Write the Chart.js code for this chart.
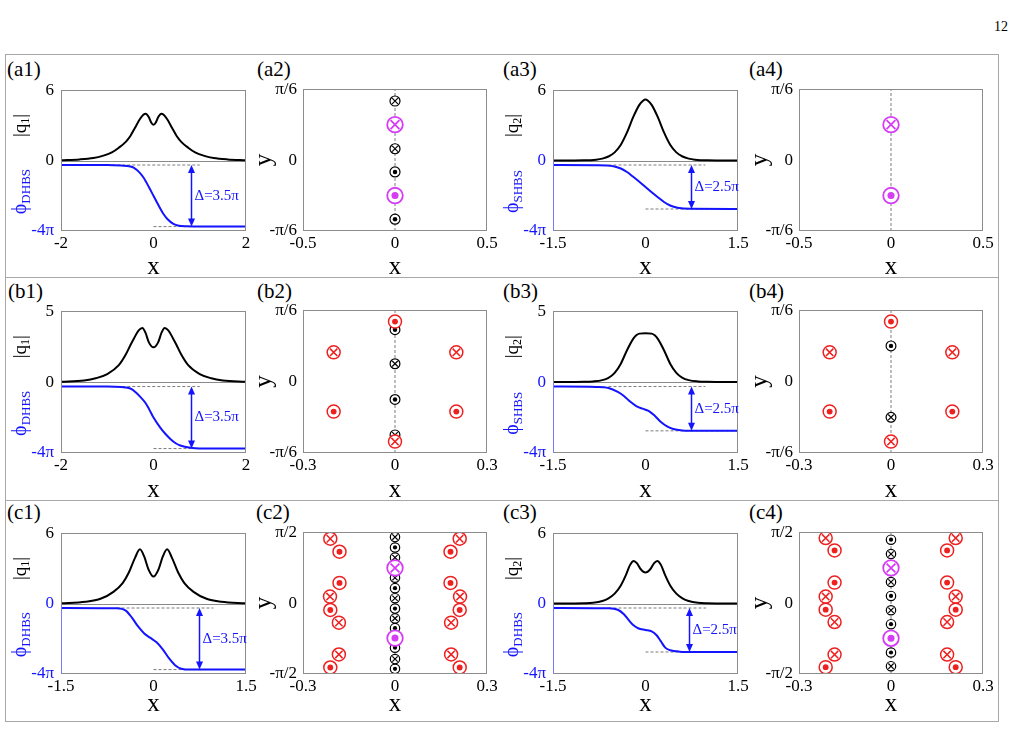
<!DOCTYPE html>
<html>
<head>
<meta charset="utf-8">
<script src="https://cdn.jsdelivr.net/npm/chart.js@4.4.1/dist/chart.umd.min.js"></script>
<style>
  body { margin: 0; width: 1016px; height: 729px; background: #fff; position: relative; overflow: hidden;
         font-family: "Liberation Serif", Tinos, "Times New Roman", serif; color: #000; }
  canvas { position: absolute; }
  .box { position: absolute; left: 5px; top: 54px; width: 992px; height: 666px; border: 1px solid #a8a8a8; }
  .rule { position: absolute; left: 5px; width: 993px; height: 1px; background: #a8a8a8; }
  .tag { position: absolute; font-size: 21px; line-height: 21px; white-space: nowrap; }
  .page { position: absolute; left: 994px; top: 20px; font-size: 14px; line-height: 14px; }
</style>
</head>
<body>
<div class="page">12</div>
<div class="box"></div>
<div class="rule" style="top:277px"></div>
<div class="rule" style="top:500px"></div>
<div class="tag" style="left:7px;top:59px">(a1)</div>
<div class="tag" style="left:257px;top:59px">(a2)</div>
<div class="tag" style="left:503px;top:59px">(a3)</div>
<div class="tag" style="left:749px;top:59px">(a4)</div>
<div class="tag" style="left:8px;top:281px">(b1)</div>
<div class="tag" style="left:257px;top:281px">(b2)</div>
<div class="tag" style="left:503px;top:281px">(b3)</div>
<div class="tag" style="left:749px;top:281px">(b4)</div>
<div class="tag" style="left:7px;top:502px">(c1)</div>
<div class="tag" style="left:256px;top:502px">(c2)</div>
<div class="tag" style="left:503px;top:502px">(c3)</div>
<div class="tag" style="left:749px;top:502px">(c4)</div>
<script>
// ---------- data ----------
// amplitude |q| and phase (phase in units of pi)
const a1QX = [-2, -1.6, -1.3, -1.1, -0.9, -0.75, -0.6, -0.5, -0.4, -0.3, -0.22, -0.17, -0.1, -0.05, 0, 0.05, 0.1, 0.17, 0.22, 0.3, 0.4, 0.5, 0.6, 0.75, 0.9, 1.1, 1.3, 1.6, 2];
const a1Q = [0.03, 0.1, 0.22, 0.4, 0.7, 1.1, 1.6, 2.1, 2.8, 3.5, 3.9, 4.0, 3.7, 3.25, 3.05, 3.25, 3.7, 4.0, 3.9, 3.5, 2.8, 2.1, 1.6, 1.1, 0.7, 0.4, 0.22, 0.1, 0.03];
const a1PhiX = [-2, -1, -0.7, -0.5, -0.43, -0.3, -0.22, -0.1, 0, 0.1, 0.22, 0.3, 0.43, 0.55, 0.72, 1, 2];
const a1Phi = [-0.25, -0.25, -0.28, -0.33, -0.4, -0.68, -0.95, -1.5, -2.0, -2.5, -3.05, -3.32, -3.6, -3.7, -3.73, -3.75, -3.75];

const a3QX = [-1.5, -1, -0.8, -0.7, -0.6, -0.5, -0.4, -0.3, -0.2, -0.1, -0.04, 0, 0.04, 0.1, 0.2, 0.3, 0.4, 0.5, 0.6, 0.7, 0.8, 1, 1.5];
const a3Q = [0, 0.02, 0.08, 0.17, 0.35, 0.7, 1.35, 2.4, 3.7, 4.75, 5.1, 5.2, 5.1, 4.75, 3.7, 2.4, 1.35, 0.7, 0.35, 0.17, 0.08, 0.02, 0];
const a3PhiX = [-1.5, -0.8, -0.52, -0.4, -0.3, -0.2, -0.1, 0, 0.1, 0.2, 0.3, 0.4, 0.52, 0.73, 1.5];
const a3Phi = [-0.25, -0.26, -0.32, -0.45, -0.65, -0.92, -1.2, -1.5, -1.8, -2.08, -2.35, -2.55, -2.68, -2.74, -2.75];

const b1QX = [-2, -1.5, -1.25, -1, -0.75, -0.6, -0.5, -0.42, -0.32, -0.24, -0.17, -0.1, 0, 0.1, 0.17, 0.24, 0.32, 0.42, 0.5, 0.6, 0.75, 1, 1.25, 1.5, 2];
const b1Q = [0.02, 0.12, 0.27, 0.57, 1.2, 1.95, 2.6, 3.1, 3.65, 3.82, 3.45, 2.8, 2.45, 2.8, 3.45, 3.82, 3.65, 3.1, 2.6, 1.95, 1.2, 0.57, 0.27, 0.12, 0.02];
const b1PhiX = [-2, -1, -0.7, -0.5, -0.38, -0.28, -0.18, -0.1, 0, 0.15, 0.25, 0.37, 0.48, 0.58, 0.8, 1, 2];
const b1Phi = [-0.25, -0.25, -0.28, -0.36, -0.58, -0.85, -1.15, -1.5, -2.0, -2.58, -2.9, -3.22, -3.45, -3.58, -3.71, -3.75, -3.75];

const b3QX = [-1.5, -1, -0.85, -0.7, -0.6, -0.5, -0.4, -0.3, -0.2, -0.15, -0.1, 0, 0.1, 0.15, 0.2, 0.3, 0.4, 0.5, 0.6, 0.7, 0.85, 1, 1.5];
const b3Q = [0, 0.02, 0.05, 0.14, 0.3, 0.65, 1.3, 2.25, 3.05, 3.3, 3.42, 3.45, 3.42, 3.3, 3.05, 2.25, 1.3, 0.65, 0.3, 0.14, 0.05, 0.02, 0];
const b3PhiX = [-1.5, -0.8, -0.6, -0.45, -0.35, -0.25, -0.15, -0.05, 0.05, 0.15, 0.25, 0.35, 0.45, 0.6, 0.8, 1.5];
const b3Phi = [-0.25, -0.27, -0.33, -0.55, -0.78, -1.1, -1.35, -1.5, -1.62, -1.9, -2.25, -2.5, -2.65, -2.73, -2.75, -2.75];

const c1QX = [-1.5, -1.1, -0.85, -0.65, -0.5, -0.4, -0.3, -0.22, -0.15, -0.08, 0, 0.08, 0.15, 0.22, 0.3, 0.4, 0.5, 0.65, 0.85, 1.1, 1.5];
const c1Q = [0.03, 0.15, 0.43, 1.0, 1.75, 2.65, 3.9, 4.63, 4.0, 2.9, 2.3, 2.9, 4.0, 4.63, 3.9, 2.65, 1.75, 1.0, 0.43, 0.15, 0.03];
const c1PhiX = [-1.5, -0.6, -0.45, -0.35, -0.25, -0.15, -0.05, 0.05, 0.15, 0.25, 0.35, 0.45, 0.6, 1.5];
const c1Phi = [-0.25, -0.27, -0.4, -0.8, -1.3, -1.7, -1.95, -2.2, -2.6, -3.1, -3.5, -3.7, -3.75, -3.75];

const c3QX = [-1.5, -1, -0.85, -0.7, -0.6, -0.5, -0.4, -0.32, -0.25, -0.19, -0.14, -0.08, 0, 0.08, 0.14, 0.19, 0.25, 0.32, 0.4, 0.5, 0.6, 0.7, 0.85, 1, 1.5];
const c3Q = [0, 0.03, 0.07, 0.22, 0.45, 0.85, 1.55, 2.4, 3.3, 3.64, 3.45, 2.95, 2.65, 2.95, 3.45, 3.64, 3.3, 2.4, 1.55, 0.85, 0.45, 0.22, 0.07, 0.03, 0];
const c3PhiX = [-1.5, -0.6, -0.45, -0.35, -0.28, -0.2, -0.12, 0, 0.1, 0.18, 0.25, 0.32, 0.4, 0.55, 0.8, 1.5];
const c3Phi = [-0.25, -0.27, -0.35, -0.6, -0.9, -1.22, -1.4, -1.5, -1.58, -1.8, -2.15, -2.5, -2.65, -2.73, -2.75, -2.75];

// phase plateaus [left, right], extent of the upper dashed guide, arrow position
const levels35 = [-0.25, -3.75];
const levels25 = [-0.25, -2.75];
const a1Guide = [-1, 1.0], a1ArrowX = 0.8;
const a3Guide = [-0.6, 0.97], a3ArrowX = 0.74;
const b1Guide = [-1, 1.0], b1ArrowX = 0.8;
const b3Guide = [-0.6, 0.97], b3ArrowX = 0.74;
const c1Guide = [-0.6, 0.97], c1ArrowX = 0.74;
const c3Guide = [-0.6, 0.98], c3ArrowX = 0.71;

// spot positions [x, y], y in degrees (pi/6 = 30, pi/2 = 90)
const a2Cross = [[0, 25], [0, 4.8]];
const a2Dot = [[0, -5], [0, -25]];
const a2MagCross = [[0, 15]];
const a2MagDot = [[0, -15]];
const a4MagCross = [[0, 15]];
const a4MagDot = [[0, -15]];
const b2RedDot = [[0, 25.2], [-0.2, -12.6], [0.2, -12.6]];
const b2RedCross = [[-0.2, 12.3], [0.2, 12.3], [0, -25.2]];
const b2Dot = [[0, 21.8], [0, -7.5]];
const b2Cross = [[0, 7.5], [0, -22.4]];
const b4RedDot = [[0, 25.2], [-0.2, -12.6], [0.2, -12.6]];
const b4RedCross = [[-0.2, 12.3], [0.2, 12.3], [0, -25.2]];
const b4Dot = [[0, 15]];
const b4Cross = [[0, -15]];
const c2RedCross = [[-0.211, 81.7], [0.211, 81.7], [-0.212, 8.3], [0.212, 8.3], [-0.183, -24.8], [0.183, -24.8], [-0.183, -65.2], [0.183, -65.2]];
const c2RedDot = [[-0.181, 65.2], [0.181, 65.2], [-0.181, 25.6], [0.181, 25.6], [-0.211, -8.7], [0.211, -8.7], [-0.211, -81.7], [0.211, -81.7]];
const c2Cross = [[0, 83.8], [0, 57.8], [0, 32.2], [0, 6.2], [0, -19.4], [0, -71]];
const c2Dot = [[0, 70.6], [0, 19], [0, -7], [0, -31.8], [0, -56.6], [0, -83.4]];
const c2MagCross = [[0, 44.6]];
const c2MagDot = [[0, -44.4]];
const c4RedCross = [[-0.213, 82.6], [0.211, 82.6], [-0.213, 8.3], [0.211, 8.3], [-0.184, -24], [0.183, -24], [-0.184, -65.3], [0.183, -65.3]];
const c4RedDot = [[-0.184, 66.9], [0.183, 66.9], [-0.184, 26], [0.183, 26], [-0.213, -8.3], [0.211, -8.3], [-0.213, -81.3], [0.211, -81.3]];
const c4Cross = [[0, 62.3], [0, 26.8], [0, -9.1], [0, -80.1]];
const c4Dot = [[0, 80.5], [0, 9.1], [0, -26.8], [0, -62.7]];
const c4MagCross = [[0, 44.6]];
const c4MagDot = [[0, -44.6]];

// ticks
const ticksX2 = [-2, 0, 2];
const ticksX15 = [-1.5, 0, 1.5];
const ticksX05 = [-0.5, 0, 0.5];
const ticksX03 = [-0.3, 0, 0.3];
const ticksY6 = [-30, 0, 30], labelsY6 = ['-\u03c0/6', '0', '\u03c0/6'];
const ticksY2 = [-90, 0, 90], labelsY2 = ['-\u03c0/2', '0', '\u03c0/2'];
const phiRange = [-4, 4];

// ---------- styling ----------
const SERIF = '"Liberation Serif", Tinos, "Times New Roman", serif';
const BLUE = '#1414ff', BLACK = '#000000', RED = '#ee2020', MAGENTA = '#d63cf5';
const FRAME = '#8c8c8c', GUIDE = '#7c7c7c', AXISBLUE = '#7a7aff';
Chart.defaults.font.family = SERIF;
Chart.defaults.color = BLACK;

const L = 60, T = 12, R = 18;

function mountCanvas(left, top, w, h, b) {
  const cv = document.createElement('canvas');
  cv.width = L + w + R;
  cv.height = T + h + b;
  cv.style.left = (left - L) + 'px';
  cv.style.top = (top - T) + 'px';
  document.body.appendChild(cv);
  return cv;
}

function xAxis(ticks, b) {
  return {
    type: 'linear', min: ticks[0], max: ticks[ticks.length - 1],
    grid: {display: false, drawTicks: false}, border: {display: false},
    afterBuildTicks: ax => { ax.ticks = ticks.map(v => ({value: v})); },
    afterFit: ax => { ax.height = b; },
    ticks: {padding: 2, font: {size: 17}, color: BLACK, maxRotation: 0, autoSkip: false, callback: v => String(v)},
    title: {display: true, text: 'x', font: {size: 25}, padding: {top: 0, bottom: 1}, color: BLACK}
  };
}

function drawRotated(ctx, parts, cx, cy, color) {
  ctx.save();
  ctx.translate(cx, cy);
  ctx.rotate(-Math.PI / 2);
  ctx.fillStyle = color;
  ctx.textBaseline = 'alphabetic';
  ctx.textAlign = 'left';
  let total = 0;
  parts.forEach(p => { ctx.font = p.size + 'px ' + SERIF; p.w = ctx.measureText(p.t).width; total += p.w; });
  let x = -total / 2;
  parts.forEach(p => { ctx.font = p.size + 'px ' + SERIF; ctx.fillText(p.t, x, p.dy); x += p.w; });
  ctx.restore();
}

function frameOf(ctx, a) {
  ctx.save();
  ctx.strokeStyle = FRAME;
  ctx.lineWidth = 1;
  ctx.strokeRect(Math.round(a.left) + 0.5, Math.round(a.top) + 0.5, Math.round(a.right - a.left) - 1, Math.round(a.bottom - a.top) - 1);
  ctx.restore();
}

// ---------- curve panels ----------
function curvePanel(p) {
  const cv = mountCanvas(p.left, p.top, p.w, p.h, p.b);
  const pts = (xs, ys) => xs.map((x, i) => ({x, y: ys[i]}));
  const curve = (xs, ys, color, axis) => ({
    data: pts(xs, ys), yAxisID: axis, borderColor: color, borderWidth: 2,
    pointRadius: 0, cubicInterpolationMode: 'monotone', fill: false
  });
  const dashed = (x0, x1, y) => ({
    data: [{x: x0, y}, {x: x1, y}], yAxisID: 'yp', borderColor: GUIDE, borderWidth: 1,
    borderDash: [3, 2], pointRadius: 0, fill: false
  });
  const xt = p.xt;
  const qLabels = ['-4\u03c0', '0', String(p.qMax)];
  const decor = {
    id: 'decor',
    beforeDatasetsDraw(chart) {
      const {ctx, chartArea: a, scales} = chart;
      const y0 = Math.round(scales.y.getPixelForValue(0)) + 0.5;
      ctx.save();
      ctx.strokeStyle = '#8a8a8a';
      ctx.lineWidth = 1;
      ctx.beginPath(); ctx.moveTo(a.left, y0); ctx.lineTo(a.right, y0); ctx.stroke();
      ctx.restore();
    },
    afterDatasetsDraw(chart) {
      const {ctx, chartArea: a, scales} = chart;
      frameOf(ctx, a);
      const y0 = scales.y.getPixelForValue(0);
      if (p.blueAxis) {
        ctx.save();
        ctx.strokeStyle = AXISBLUE;
        ctx.beginPath(); ctx.moveTo(Math.round(a.left) + 0.5, y0 + 1); ctx.lineTo(Math.round(a.left) + 0.5, a.bottom); ctx.stroke();
        ctx.restore();
      }
      // double arrow with the phase jump
      const x = Math.round(scales.x.getPixelForValue(p.arrowX)) + 0.5;
      const y1 = scales.yp.getPixelForValue(p.levels[0]);
      const y2 = scales.yp.getPixelForValue(p.levels[1]);
      ctx.save();
      ctx.strokeStyle = BLUE; ctx.fillStyle = BLUE; ctx.lineWidth = 1.5;
      ctx.beginPath(); ctx.moveTo(x, y1 + 6); ctx.lineTo(x, y2 - 6); ctx.stroke();
      ctx.beginPath(); ctx.moveTo(x, y1); ctx.lineTo(x - 3.5, y1 + 8); ctx.lineTo(x + 3.5, y1 + 8); ctx.closePath(); ctx.fill();
      ctx.beginPath(); ctx.moveTo(x, y2); ctx.lineTo(x - 3.5, y2 - 8); ctx.lineTo(x + 3.5, y2 - 8); ctx.closePath(); ctx.fill();
      ctx.font = '15px ' + SERIF;
      ctx.textAlign = 'left'; ctx.textBaseline = 'middle';
      ctx.fillText(p.delta, x + 3, (y1 + y2) / 2);
      ctx.restore();
    },
    afterDraw(chart) {
      const {ctx, chartArea: a, scales} = chart;
      const y0 = scales.y.getPixelForValue(0);
      drawRotated(ctx, [{t: '|q', size: 19, dy: 5}, {t: p.qSub, size: 12, dy: 8}, {t: '|', size: 19, dy: 5}],
        a.left - 40, (a.top + y0) / 2, BLACK);
      drawRotated(ctx, [{t: '\u03d5', size: 20, dy: 6}, {t: p.phiSub, size: 13, dy: 10}],
        a.left - 41, y0 + (a.bottom - y0) * 0.44, BLUE);
    }
  };
  new Chart(cv, {
    type: 'line',
    data: {
      datasets: [
        curve(p.qx, p.q, BLACK, 'y'),
        curve(p.px, p.phi, BLUE, 'yp'),
        dashed(p.guide[0], p.guide[1], p.levels[0]),
        dashed(0, xt[xt.length - 1], p.levels[1])
      ]
    },
    options: {
      responsive: false, animation: false, devicePixelRatio: 1, events: [],
      layout: {padding: {left: 0, top: T, right: R, bottom: 0}},
      plugins: {legend: {display: false}, tooltip: {enabled: false}},
      scales: {
        x: xAxis(xt, p.b),
        y: {
          min: -p.qMax, max: p.qMax,
          grid: {display: false, drawTicks: false}, border: {display: false},
          afterBuildTicks: ax => { ax.ticks = [-p.qMax, 0, p.qMax].map(v => ({value: v})); },
          afterFit: ax => { ax.width = L; },
          ticks: {
            padding: 7, font: {size: 17},
            color: c => (c.index === 0 || (c.index === 1 && p.zeroBlue)) ? BLUE : BLACK,
            callback: (v, i) => qLabels[i]
          }
        },
        yp: {display: false, min: phiRange[0], max: phiRange[1]}
      }
    },
    plugins: [decor]
  });
}

// ---------- spot panels ----------
function markerSets(list, color, kind, r, lw) {
  const data = list.map(([x, y]) => ({x, y}));
  const inner = kind === 'cross'
    ? {data, pointStyle: 'crossRot', pointRadius: r * 0.8, pointBorderColor: color, pointBackgroundColor: color, pointBorderWidth: lw}
    : {data, pointStyle: 'circle', pointRadius: r * 0.45, pointBorderColor: color, pointBackgroundColor: color, pointBorderWidth: 0};
  const ring = {data, pointStyle: 'circle', pointRadius: r, pointBorderColor: color, pointBackgroundColor: '#ffffff', pointBorderWidth: lw};
  return [inner, ring];
}

function spotPanel(p) {
  const cv = mountCanvas(p.left, p.top, p.w, p.h, p.b);
  let sets = [];
  p.groups.forEach(g => { sets = sets.concat(markerSets(g[0], g[1], g[2], g[3], g[4])); });
  sets.push({
    data: [{x: 0, y: p.yt[0]}, {x: 0, y: p.yt[2]}], showLine: true, borderColor: GUIDE, borderWidth: 1,
    borderDash: [3, 2], pointRadius: 0
  });
  const decor = {
    id: 'decor',
    afterDatasetsDraw(chart) { frameOf(chart.ctx, chart.chartArea); }
  };
  new Chart(cv, {
    type: 'scatter',
    data: {datasets: sets},
    options: {
      responsive: false, animation: false, devicePixelRatio: 1, events: [],
      layout: {padding: {left: 0, top: T, right: R, bottom: 0}},
      plugins: {legend: {display: false}, tooltip: {enabled: false}},
      scales: {
        x: xAxis(p.xt, p.b),
        y: {
          min: p.yt[0], max: p.yt[2],
          grid: {display: false, drawTicks: false}, border: {display: false},
          afterBuildTicks: ax => { ax.ticks = p.yt.map(v => ({value: v})); },
          afterFit: ax => { ax.width = L; },
          ticks: {padding: 6, font: {size: 17}, color: BLACK, callback: (v, i) => p.yl[i]},
          title: {display: true, text: 'y', font: {size: 25}, padding: {top: 6, bottom: 0}, color: BLACK}
        }
      }
    },
    plugins: [decor]
  });
}

// ---------- layout ----------
const colLeft = [61, 303, 553, 799], colW = [185, 184, 185, 184];
const rowTop = [85, 306, 528], rowH = [146, 147, 146], rowB = [52, 53, 46];
const cell = (r, c) => ({left: colLeft[c], top: rowTop[r], w: colW[c], h: rowH[r], b: rowB[r]});

curvePanel(Object.assign(cell(0, 0), {qx: a1QX, q: a1Q, px: a1PhiX, phi: a1Phi, xt: ticksX2, qMax: 6,
  levels: levels35, guide: a1Guide, arrowX: a1ArrowX, delta: '\u0394=3.5\u03c0', qSub: '1', phiSub: 'DHBS', zeroBlue: false, blueAxis: false}));
curvePanel(Object.assign(cell(0, 2), {qx: a3QX, q: a3Q, px: a3PhiX, phi: a3Phi, xt: ticksX15, qMax: 6,
  levels: levels25, guide: a3Guide, arrowX: a3ArrowX, delta: '\u0394=2.5\u03c0', qSub: '2', phiSub: 'SHBS', zeroBlue: true, blueAxis: true}));
curvePanel(Object.assign(cell(1, 0), {qx: b1QX, q: b1Q, px: b1PhiX, phi: b1Phi, xt: ticksX2, qMax: 5,
  levels: levels35, guide: b1Guide, arrowX: b1ArrowX, delta: '\u0394=3.5\u03c0', qSub: '1', phiSub: 'DHBS', zeroBlue: false, blueAxis: false}));
curvePanel(Object.assign(cell(1, 2), {qx: b3QX, q: b3Q, px: b3PhiX, phi: b3Phi, xt: ticksX15, qMax: 5,
  levels: levels25, guide: b3Guide, arrowX: b3ArrowX, delta: '\u0394=2.5\u03c0', qSub: '2', phiSub: 'SHBS', zeroBlue: true, blueAxis: true}));
curvePanel(Object.assign(cell(2, 0), {qx: c1QX, q: c1Q, px: c1PhiX, phi: c1Phi, xt: ticksX15, qMax: 6,
  levels: levels35, guide: c1Guide, arrowX: c1ArrowX, delta: '\u0394=3.5\u03c0', qSub: '1', phiSub: 'DHBS', zeroBlue: true, blueAxis: true}));
curvePanel(Object.assign(cell(2, 2), {qx: c3QX, q: c3Q, px: c3PhiX, phi: c3Phi, xt: ticksX15, qMax: 6,
  levels: levels25, guide: c3Guide, arrowX: c3ArrowX, delta: '\u0394=2.5\u03c0', qSub: '2', phiSub: 'DHBS', zeroBlue: true, blueAxis: true}));

spotPanel(Object.assign(cell(0, 1), {xt: ticksX05, yt: ticksY6, yl: labelsY6, groups: [
  [a2MagCross, MAGENTA, 'cross', 7.8, 1.8], [a2MagDot, MAGENTA, 'dot', 7.8, 1.8],
  [a2Cross, BLACK, 'cross', 5, 1.2], [a2Dot, BLACK, 'dot', 5, 1.2]]}));
spotPanel(Object.assign(cell(0, 3), {xt: ticksX05, yt: ticksY6, yl: labelsY6, groups: [
  [a4MagCross, MAGENTA, 'cross', 7.8, 1.8], [a4MagDot, MAGENTA, 'dot', 7.8, 1.8]]}));
spotPanel(Object.assign(cell(1, 1), {xt: ticksX03, yt: ticksY6, yl: labelsY6, groups: [
  [b2RedDot, RED, 'dot', 6.5, 1.5], [b2RedCross, RED, 'cross', 6.5, 1.5],
  [b2Dot, BLACK, 'dot', 4.9, 1.2], [b2Cross, BLACK, 'cross', 4.9, 1.2]]}));
spotPanel(Object.assign(cell(1, 3), {xt: ticksX03, yt: ticksY6, yl: labelsY6, groups: [
  [b4RedDot, RED, 'dot', 6.5, 1.5], [b4RedCross, RED, 'cross', 6.5, 1.5],
  [b4Dot, BLACK, 'dot', 4.9, 1.2], [b4Cross, BLACK, 'cross', 4.9, 1.2]]}));
spotPanel(Object.assign(cell(2, 1), {xt: ticksX03, yt: ticksY2, yl: labelsY2, groups: [
  [c2MagCross, MAGENTA, 'cross', 7.8, 1.8], [c2MagDot, MAGENTA, 'dot', 7.8, 1.8],
  [c2RedCross, RED, 'cross', 6.5, 1.5], [c2RedDot, RED, 'dot', 6.5, 1.5],
  [c2Cross, BLACK, 'cross', 4.7, 1.2], [c2Dot, BLACK, 'dot', 4.7, 1.2]]}));
spotPanel(Object.assign(cell(2, 3), {xt: ticksX03, yt: ticksY2, yl: labelsY2, groups: [
  [c4MagCross, MAGENTA, 'cross', 7.8, 1.8], [c4MagDot, MAGENTA, 'dot', 7.8, 1.8],
  [c4RedCross, RED, 'cross', 6.5, 1.5], [c4RedDot, RED, 'dot', 6.5, 1.5],
  [c4Cross, BLACK, 'cross', 4.7, 1.2], [c4Dot, BLACK, 'dot', 4.7, 1.2]]}));
</script>
</body>
</html>
